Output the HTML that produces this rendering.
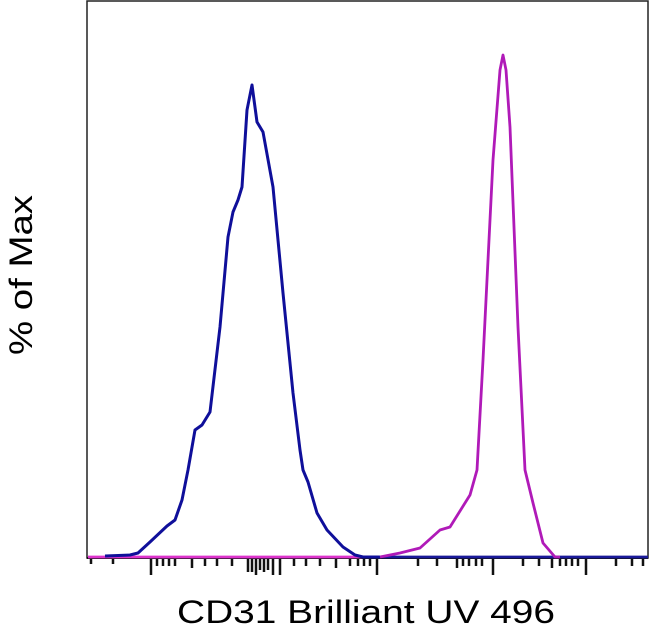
<!DOCTYPE html>
<html><head><style>
body{margin:0;background:#fff;width:650px;height:632px;overflow:hidden}
svg{display:block}
</style></head><body>
<svg width="650" height="632" viewBox="0 0 650 632" xmlns="http://www.w3.org/2000/svg">
<rect x="87" y="1" width="561" height="557" fill="#fff" stroke="#222" stroke-width="1.5"/>
<g stroke="#111" stroke-width="2">
<line x1="87" y1="558" x2="648" y2="558"/>
</g>
<g stroke="#111">
<path d="M91 558v6M113 558v6M151 558v17M157 558v8M163 558v8M169 558v8M175 558v8M192 558v10M205 558v8M217 558v8M232 558v8M248 558v14M252 558v14M256 558v17M260 558v12M264 558v14M268 558v12M273 558v17M280 558v17M294 558v8M306 558v8M320 558v8M336 558v10M350 558v8M358 558v8M364 558v8M370 558v8M377 558v17M418 558v8M437 558v8M457 558v10M463 558v8M469 558v8M476 558v8M482 558v8M493 558v17M523 558v8M539 558v8M552 558v10M560 558v8M566 558v8M572 558v8M578 558v8M586 558v17M616 558v8M632 558v8M643 558v8" stroke-width="2.5"/>
</g>
<polyline fill="none" stroke="#dd33cc" stroke-width="2.8" points="88,557 380,557"/>
<polyline fill="none" stroke="#1a1a99" stroke-width="2.8" points="380,557 648,557"/>
<polyline fill="none" stroke="#0f0f9a" stroke-width="3" stroke-linejoin="round" points="105,556 130,555 138,553 150,542 167,526 175,520 182,500 188,470 195,430 202,425 210,412 220,327 228,237 233,212 238,200 242,187 247,110 252,85 257,122 263,132 273,187 283,293 293,393 300,450 303,470 308,482 317,513 327,530 343,547 355,555 363,557 380,557"/>
<polyline fill="none" stroke="#b01ab8" stroke-width="2.8" stroke-linejoin="round" points="380,557 400,553 420,548 440,530 450,527 470,495 477,470 483,360 493,160 500,70 503,55 506,70 510,127 518,327 525,470 533,503 543,543 555,557 560,557"/>
<text x="32" y="275" transform="rotate(-90 32 275)" text-anchor="middle" font-family="Liberation Sans, sans-serif" font-size="32" textLength="160" lengthAdjust="spacingAndGlyphs" fill="#000">% of Max</text>
<text x="366" y="623" text-anchor="middle" font-family="Liberation Sans, sans-serif" font-size="32" textLength="378" lengthAdjust="spacingAndGlyphs" fill="#000">CD31 Brilliant UV 496</text>
</svg>
</body></html>
